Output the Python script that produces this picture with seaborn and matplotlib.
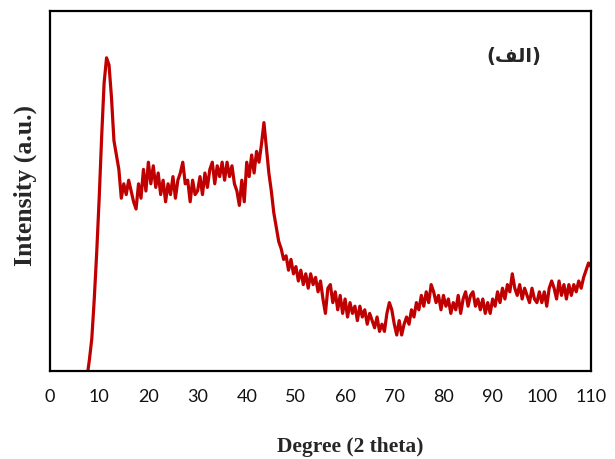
import numpy as np
import pandas as pd
import matplotlib
matplotlib.use("Agg")
import matplotlib.pyplot as plt
import seaborn as sns

# 2-theta grid (degrees), 0.5 degree steps
two_theta = np.arange(7.5, 110.01, 0.5)

# Intensity (arbitrary units)
intensity = [
    -2, 3, 9, 20, 33, 48, 65, 80, 87, 85,
    76, 64, 60, 56, 48, 52, 49, 53, 50, 47,
    45, 52, 48, 56, 50, 58, 52, 57, 51, 55,
    49, 53, 47, 52, 49, 54, 48, 53, 55, 58,
    52, 53, 47, 53, 49, 50, 54, 49, 55, 51,
    56, 58, 52, 57, 54, 58, 53, 58, 54, 57,
    52, 50, 46, 53, 47, 58, 54, 60, 55, 61,
    58, 63, 69, 62, 55, 50, 44, 40, 36, 34,
    31, 32, 28, 31, 27, 29, 25, 28, 24, 27,
    23, 27, 24, 26, 22, 25, 20, 16, 23, 24,
    19, 22, 17, 21, 16, 20, 15, 19, 16, 18,
    14, 18, 15, 17, 13, 16, 14, 12, 15, 11,
    13, 11, 16, 19, 17, 13, 10, 14, 10, 13,
    15, 13, 17, 15, 19, 17, 21, 18, 22, 19,
    24, 22, 19, 21, 17, 21, 18, 20, 16, 19,
    17, 21, 16, 20, 22, 18, 21, 22, 18, 20,
    17, 20, 16, 19, 16, 20, 18, 22, 19, 23,
    20, 24, 22, 27, 23, 21, 24, 20, 23, 21,
    19, 23, 20, 19, 22, 19, 22, 18, 23, 25,
    23, 20, 25, 21, 24, 20, 24, 21, 24, 22,
    25, 23, 26, 28, 30, 29,
]

x_ticks = list(range(0, 111, 10))
x_label = "Degree (2 theta)"
y_label = "Intensity (a.u.)"
# "(الف)" written with Arabic presentation forms so it shows joined, right to left
panel_label = "(\uFED2\uFEDF\u0627)"

df = pd.DataFrame({"two_theta": two_theta, "intensity": intensity})

sns.set_style("white")
plt.rcParams["font.family"] = ["Lato", "DejaVu Sans"]

fig = plt.figure(figsize=(6.15, 4.6), dpi=100)
ax = fig.add_axes([50 / 615, 88 / 460, 541 / 615, 360 / 460])

sns.lineplot(data=df, x="two_theta", y="intensity", ax=ax,
             color="#C00000", linewidth=2.3, estimator=None)

ax.set_xlim(0, 110)
ax.set_ylim(0, 100)
ax.set_xticks(x_ticks)
ax.set_xticklabels([str(t) for t in x_ticks], fontsize=13, color="#111111")
ax.set_yticks([])
ax.tick_params(axis="x", length=0, pad=12)

for s in ax.spines.values():
    s.set_visible(True)
    s.set_color("black")
    s.set_linewidth(1.6)

serif = ["Liberation Serif", "DejaVu Serif"]
ax.set_xlabel(x_label, fontsize=15.5, fontweight="bold", family=serif)
ax.set_ylabel(y_label, fontsize=18.5, fontweight="bold", family=serif)
ax.xaxis.set_label_coords(0.555, -0.18)
ax.yaxis.set_label_coords(-0.024, 0.517)

ax.text(0.858, 0.876, panel_label, transform=ax.transAxes,
        fontsize=14, fontweight="bold", family=["DejaVu Sans"],
        ha="center", va="center")

fig.savefig("out.png", dpi=100)
